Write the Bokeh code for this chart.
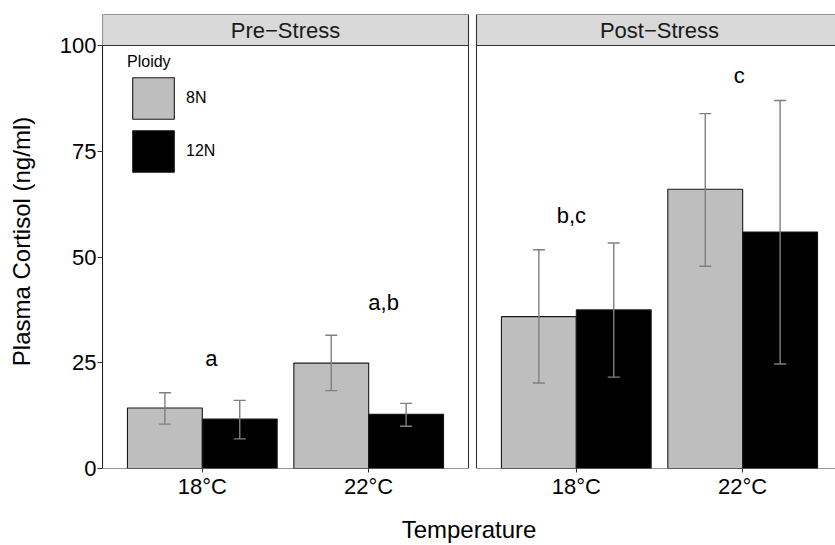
from bokeh.plotting import figure
from bokeh.models import (Range1d, FixedTicker, ColumnDataSource, Whisker, TeeHead,
                          BoxAnnotation, Label, Legend, LegendItem)
from bokeh.embed import file_html
from bokeh.resources import INLINE
from bokeh.core.properties import value

# ---------------- data ----------------
temps = ["18°C", "22°C"]
phases = ["Pre−Stress", "Post−Stress"]
ploidy = ["8N", "12N"]

mean_8n_pre = [14.3, 24.9]
mean_12n_pre = [11.7, 12.8]
mean_8n_post = [35.9, 66.0]
mean_12n_post = [37.5, 55.9]

upper_8n_pre = [17.9, 31.5]
lower_8n_pre = [10.5, 18.4]
upper_12n_pre = [16.1, 15.4]
lower_12n_pre = [7.0, 10.0]
upper_8n_post = [51.7, 83.9]
lower_8n_post = [20.2, 47.8]
upper_12n_post = [53.3, 87.0]
lower_12n_post = [21.6, 24.7]

sig_letters = ["a", "a,b", "b,c", "c"]
sig_phase = [0, 0, 1, 1]
sig_temp = [0, 1, 0, 1]
sig_shift = [0.055, 0.09, -0.03, -0.02]
sig_y = [26.1, 39.3, 59.8, 93.0]

y_ticks = [0, 25, 50, 75, 100]

# ---------------- layout constants ----------------
FONT = "Liberation Sans"
PX_UNIT = 366 / 2.2
PANEL_LO, PANEL_HI = 0.4, 2.6
GAP = 8 / PX_UNIT
OFFSET = (PANEL_HI - PANEL_LO) + GAP
FRAME_W, FRAME_H = 733, 454
Y_TOP = 100 + 31 / 4.23
X_END = PANEL_LO + FRAME_W / PX_UNIT
DODGE = 0.225
BAR_W = 0.45
FILL = {"8N": "#bebebe", "12N": "#000000"}
ERR_COL = "#7f7f7f"

means = {"8N": [mean_8n_pre, mean_8n_post], "12N": [mean_12n_pre, mean_12n_post]}
uppers = {"8N": [upper_8n_pre, upper_8n_post], "12N": [upper_12n_pre, upper_12n_post]}
lowers = {"8N": [lower_8n_pre, lower_8n_post], "12N": [lower_12n_pre, lower_12n_post]}

p = figure(width=835, height=545, output_backend="svg", toolbar_location=None,
           x_range=Range1d(PANEL_LO, X_END), y_range=Range1d(0, Y_TOP),
           min_border_left=102, min_border_right=0, min_border_top=14, min_border_bottom=77)
p.outline_line_color = None
p.xgrid.visible = False
p.ygrid.visible = False
p.background_fill_color = "white"
p.border_fill_color = "white"

renderers = {}
for k, pl in enumerate(ploidy):
    xs, tops, ups, lows = [], [], [], []
    shift = -DODGE if k == 0 else DODGE
    for ph in range(2):
        for t in range(2):
            xs.append(t + 1 + shift + ph * OFFSET)
            tops.append(means[pl][ph][t])
            ups.append(uppers[pl][ph][t])
            lows.append(lowers[pl][ph][t])
    src = ColumnDataSource(dict(x=xs, top=tops, upper=ups, lower=lows))
    r = p.vbar(x="x", top="top", bottom=0, width=BAR_W, source=src,
               fill_color=FILL[pl], line_color="#1a1a1a", line_width=1.1)
    renderers[pl] = r
    w = Whisker(source=src, base="x", upper="upper", lower="lower",
                line_color=ERR_COL, line_width=1.4, level="overlay",
                upper_head=TeeHead(size=12, line_color=ERR_COL, line_width=1.4),
                lower_head=TeeHead(size=12, line_color=ERR_COL, line_width=1.4))
    p.add_layout(w)

# panels and strips
for ph, name in enumerate(phases):
    lo = PANEL_LO + ph * OFFSET
    hi = PANEL_HI + ph * OFFSET
    p.add_layout(BoxAnnotation(left=lo, right=hi, bottom=100, top=Y_TOP,
                               fill_color="#d9d9d9", fill_alpha=1.0,
                               line_color="#333333", line_alpha=1.0, line_width=1.1,
                               level="annotation"))
    p.add_layout(BoxAnnotation(left=lo, right=hi, bottom=0, top=100,
                               fill_color=None, fill_alpha=0,
                               line_color="#333333", line_alpha=1.0, line_width=1.1,
                               level="annotation"))
    p.add_layout(Label(x=(lo + hi) / 2, y=(100 + Y_TOP) / 2, text=name,
                       text_align="center", text_baseline="middle",
                       text_font=FONT, text_font_size="22px", text_color="#1a1a1a"))

# significance letters
sig_src = ColumnDataSource(dict(
    x=[sig_temp[i] + 1 + sig_shift[i] + sig_phase[i] * OFFSET for i in range(len(sig_letters))],
    y=sig_y, text=sig_letters))
p.text(x="x", y="y", text="text", source=sig_src, text_font=value(FONT),
       text_font_size="22px", text_align="center", text_baseline="middle", text_color="black")

# axes
tick_pos = []
tick_lab = {}
for ph in range(2):
    for t, lab in enumerate(temps):
        pos = float(t + 1 + ph * OFFSET)
        tick_pos.append(pos)
        tick_lab[pos] = lab
xa = p.xaxis[0]
xa.ticker = FixedTicker(ticks=tick_pos)
xa.major_label_overrides = tick_lab
xa.axis_line_color = None
xa.major_tick_out = 4
xa.major_tick_in = 0
xa.major_tick_line_color = "#333333"
xa.minor_tick_line_color = None
xa.major_label_text_font = FONT
xa.major_label_text_font_size = "22px"
xa.major_label_text_color = "black"
xa.major_label_standoff = 1
xa.axis_label = "Temperature"
xa.axis_label_text_font = FONT
xa.axis_label_text_font_size = "24px"
xa.axis_label_text_font_style = "normal"
xa.axis_label_text_color = "black"
xa.axis_label_standoff = 14

ya = p.yaxis[0]
ya.ticker = FixedTicker(ticks=y_ticks)
ya.bounds = (0, 100)
ya.axis_line_color = "black"
ya.major_tick_out = 5
ya.major_tick_in = 0
ya.major_tick_line_color = "#333333"
ya.minor_tick_line_color = None
ya.major_label_text_font = FONT
ya.major_label_text_font_size = "22px"
ya.major_label_text_color = "black"
ya.major_label_standoff = 1
ya.axis_label = "Plasma Cortisol (ng/ml)"
ya.axis_label_text_font = FONT
ya.axis_label_text_font_size = "24px"
ya.axis_label_text_font_style = "normal"
ya.axis_label_text_color = "black"
ya.axis_label_standoff = 22

legend = Legend(items=[LegendItem(label=pl, renderers=[renderers[pl]]) for pl in ploidy],
                title="Ploidy", location=(25, 291), orientation="vertical",
                border_line_color=None, background_fill_alpha=0, padding=0, margin=0,
                glyph_width=52, glyph_height=52, spacing=1, label_standoff=7,
                label_text_font=FONT, label_text_font_size="16px", label_text_color="black",
                title_text_font=FONT, title_text_font_size="16px", title_text_color="black",
                title_text_font_style="normal", title_standoff=1)
p.add_layout(legend)

open("out.html", "w").write(file_html(p, INLINE))
